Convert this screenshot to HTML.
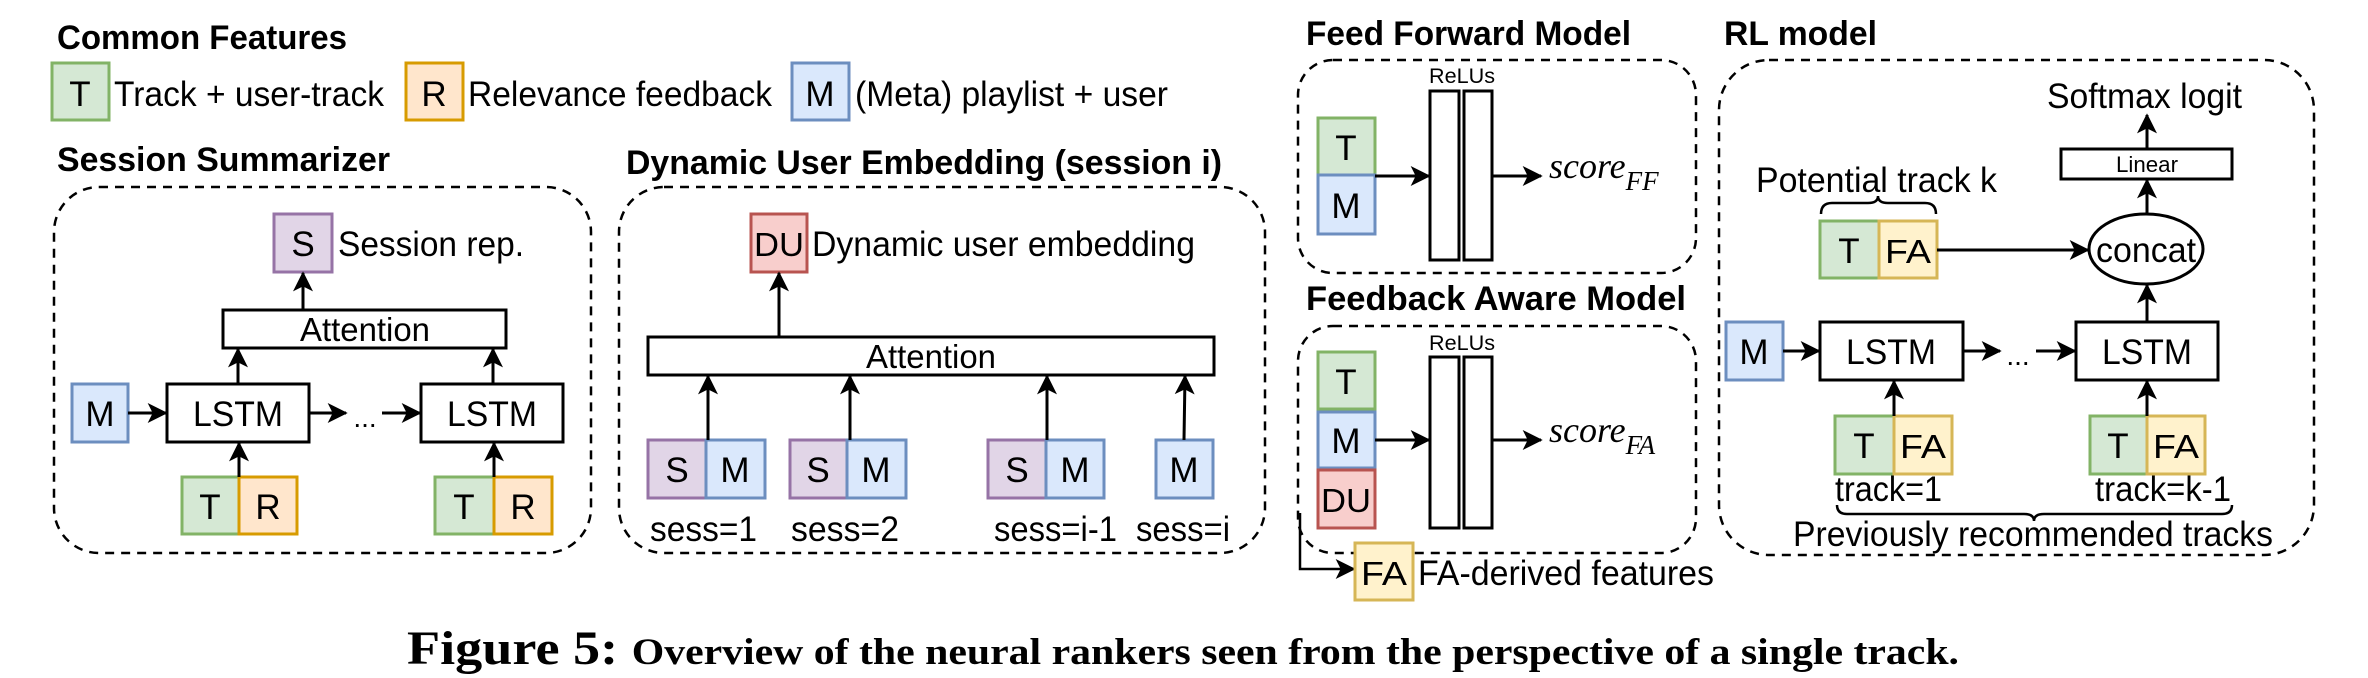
<!DOCTYPE html>
<html><head><meta charset="utf-8"><style>
html,body{margin:0;padding:0;background:#fff;}
svg{display:block;}
text{font-family:"Liberation Sans",Arial,sans-serif;fill:#000;}
.b{font-weight:bold;}
</style></head><body>
<svg width="2368" height="678" viewBox="0 0 2368 678" xmlns="http://www.w3.org/2000/svg">
<defs>
<marker id="ar" viewBox="0 0 12 12" refX="11" refY="6" markerWidth="20" markerHeight="20" markerUnits="userSpaceOnUse" orient="auto">
<path d="M0,0 L12,6 L0,12 L3,6 Z" fill="#000"/>
</marker>
</defs>
<g stroke-width="3">
<text x="57" y="49" class="b" font-size="34" textLength="290" lengthAdjust="spacingAndGlyphs">Common Features</text>
<rect x="52" y="63" width="57" height="57" fill="#d5e8d4" stroke="#82b366"/>
<text x="80" y="106" font-size="35" text-anchor="middle">T</text>
<text x="114" y="106" font-size="35" textLength="270" lengthAdjust="spacingAndGlyphs">Track + user-track</text>
<rect x="406" y="63" width="57" height="57" fill="#ffe6cc" stroke="#d79b00"/>
<text x="434" y="106" font-size="35" text-anchor="middle">R</text>
<text x="468" y="106" font-size="35" textLength="304" lengthAdjust="spacingAndGlyphs">Relevance feedback</text>
<rect x="792" y="63" width="57" height="57" fill="#dae8fc" stroke="#6c8ebf"/>
<text x="820" y="106" font-size="35" text-anchor="middle">M</text>
<text x="855" y="106" font-size="35" textLength="313" lengthAdjust="spacingAndGlyphs">(Meta) playlist + user</text>

<text x="57" y="171" class="b" font-size="34" textLength="333" lengthAdjust="spacingAndGlyphs">Session Summarizer</text>
<text x="626" y="174" class="b" font-size="34" textLength="596" lengthAdjust="spacingAndGlyphs">Dynamic User Embedding (session i)</text>
<text x="1306" y="45" class="b" font-size="34" textLength="325" lengthAdjust="spacingAndGlyphs">Feed Forward Model</text>
<text x="1724" y="45" class="b" font-size="34" textLength="153" lengthAdjust="spacingAndGlyphs">RL model</text>
<text x="1306" y="310" class="b" font-size="34" textLength="380" lengthAdjust="spacingAndGlyphs">Feedback Aware Model</text>

<g fill="none" stroke="#000" stroke-dasharray="9 7" stroke-width="2.5">
<rect x="54" y="187" width="537" height="366" rx="45"/>
<rect x="619" y="187" width="646" height="366" rx="45"/>
<rect x="1298" y="60" width="398" height="213" rx="35"/>
<rect x="1298" y="326" width="398" height="227" rx="35"/>
<rect x="1719" y="60" width="595" height="495" rx="50"/>
</g>

<rect x="274" y="214" width="58" height="58" fill="#e1d5e7" stroke="#9673a6"/>
<text x="303" y="256" font-size="35" text-anchor="middle">S</text>
<text x="338" y="256" font-size="35" textLength="186" lengthAdjust="spacingAndGlyphs">Session rep.</text>
<rect x="223" y="310" width="283" height="38" fill="#fff" stroke="#000"/>
<text x="365" y="341" font-size="33" text-anchor="middle" textLength="130" lengthAdjust="spacingAndGlyphs">Attention</text>
<line x1="303" y1="310" x2="303" y2="273" stroke="#000" marker-end="url(#ar)"/>
<rect x="72" y="384" width="56" height="58" fill="#dae8fc" stroke="#6c8ebf"/>
<text x="100" y="426" font-size="35" text-anchor="middle">M</text>
<rect x="167" y="384" width="142" height="58" fill="#fff" stroke="#000"/>
<text x="238" y="426" font-size="35" text-anchor="middle" textLength="90" lengthAdjust="spacingAndGlyphs">LSTM</text>
<rect x="421" y="384" width="142" height="58" fill="#fff" stroke="#000"/>
<text x="492" y="426" font-size="35" text-anchor="middle" textLength="90" lengthAdjust="spacingAndGlyphs">LSTM</text>
<line x1="128" y1="413" x2="166" y2="413" stroke="#000" marker-end="url(#ar)"/>
<line x1="309" y1="413" x2="346" y2="413" stroke="#000" marker-end="url(#ar)"/>
<text x="365" y="427" font-size="28" text-anchor="middle">...</text>
<line x1="382" y1="413" x2="420" y2="413" stroke="#000" marker-end="url(#ar)"/>
<line x1="238" y1="384" x2="238" y2="349" stroke="#000" marker-end="url(#ar)"/>
<line x1="493" y1="384" x2="493" y2="349" stroke="#000" marker-end="url(#ar)"/>
<rect x="182" y="477" width="57" height="57" fill="#d5e8d4" stroke="#82b366"/>
<text x="210" y="519" font-size="35" text-anchor="middle">T</text>
<rect x="239" y="477" width="58" height="57" fill="#ffe6cc" stroke="#d79b00"/>
<text x="268" y="519" font-size="35" text-anchor="middle">R</text>
<rect x="435" y="477" width="59" height="57" fill="#d5e8d4" stroke="#82b366"/>
<text x="464" y="519" font-size="35" text-anchor="middle">T</text>
<rect x="494" y="477" width="58" height="57" fill="#ffe6cc" stroke="#d79b00"/>
<text x="523" y="519" font-size="35" text-anchor="middle">R</text>
<line x1="239" y1="477" x2="239" y2="443" stroke="#000" marker-end="url(#ar)"/>
<line x1="494" y1="477" x2="494" y2="443" stroke="#000" marker-end="url(#ar)"/>

<rect x="751" y="214" width="56" height="58" fill="#f8cecc" stroke="#b85450"/>
<text x="779" y="256" font-size="33" text-anchor="middle" textLength="50" lengthAdjust="spacingAndGlyphs">DU</text>
<text x="812" y="256" font-size="35" textLength="383" lengthAdjust="spacingAndGlyphs">Dynamic user embedding</text>
<rect x="648" y="337" width="566" height="38" fill="#fff" stroke="#000"/>
<text x="931" y="368" font-size="33" text-anchor="middle" textLength="130" lengthAdjust="spacingAndGlyphs">Attention</text>
<line x1="779" y1="337" x2="779" y2="273" stroke="#000" marker-end="url(#ar)"/>
<rect x="648" y="440" width="58" height="58" fill="#e1d5e7" stroke="#9673a6"/>
<text x="677" y="482" font-size="35" text-anchor="middle">S</text>
<rect x="706" y="440" width="59" height="58" fill="#dae8fc" stroke="#6c8ebf"/>
<text x="735" y="482" font-size="35" text-anchor="middle">M</text>
<rect x="790" y="440" width="57" height="58" fill="#e1d5e7" stroke="#9673a6"/>
<text x="818" y="482" font-size="35" text-anchor="middle">S</text>
<rect x="847" y="440" width="59" height="58" fill="#dae8fc" stroke="#6c8ebf"/>
<text x="876" y="482" font-size="35" text-anchor="middle">M</text>
<rect x="988" y="440" width="58" height="58" fill="#e1d5e7" stroke="#9673a6"/>
<text x="1017" y="482" font-size="35" text-anchor="middle">S</text>
<rect x="1046" y="440" width="58" height="58" fill="#dae8fc" stroke="#6c8ebf"/>
<text x="1075" y="482" font-size="35" text-anchor="middle">M</text>
<rect x="1156" y="440" width="57" height="58" fill="#dae8fc" stroke="#6c8ebf"/>
<text x="1184" y="482" font-size="35" text-anchor="middle">M</text>
<line x1="708" y1="440" x2="708" y2="376" stroke="#000" marker-end="url(#ar)"/>
<line x1="850" y1="440" x2="850" y2="376" stroke="#000" marker-end="url(#ar)"/>
<line x1="1047" y1="440" x2="1047" y2="376" stroke="#000" marker-end="url(#ar)"/>
<line x1="1184" y1="440" x2="1185" y2="376" stroke="#000" marker-end="url(#ar)"/>
<text x="650" y="541" font-size="35" textLength="107" lengthAdjust="spacingAndGlyphs">sess=1</text>
<text x="791" y="541" font-size="35" textLength="108" lengthAdjust="spacingAndGlyphs">sess=2</text>
<text x="994" y="541" font-size="35" textLength="123" lengthAdjust="spacingAndGlyphs">sess=i-1</text>
<text x="1136" y="541" font-size="35" textLength="94" lengthAdjust="spacingAndGlyphs">sess=i</text>

<text x="1462" y="83" font-size="21" text-anchor="middle" textLength="66" lengthAdjust="spacingAndGlyphs">ReLUs</text>
<rect x="1430" y="91" width="29" height="169" fill="#fff" stroke="#000"/>
<rect x="1464" y="91" width="28" height="169" fill="#fff" stroke="#000"/>
<rect x="1318" y="118" width="57" height="57" fill="#d5e8d4" stroke="#82b366"/>
<text x="1346" y="160" font-size="35" text-anchor="middle">T</text>
<rect x="1318" y="175" width="57" height="59" fill="#dae8fc" stroke="#6c8ebf"/>
<text x="1346" y="218" font-size="35" text-anchor="middle">M</text>
<line x1="1375" y1="176" x2="1429" y2="176" stroke="#000" marker-end="url(#ar)"/>
<line x1="1492" y1="176" x2="1541" y2="176" stroke="#000" marker-end="url(#ar)"/>
<text x="1549" y="178" font-size="36" font-style="italic" style="font-family:'Liberation Serif',serif">score<tspan font-size="27" dy="12">FF</tspan></text>

<text x="1462" y="350" font-size="21" text-anchor="middle" textLength="66" lengthAdjust="spacingAndGlyphs">ReLUs</text>
<rect x="1430" y="357" width="29" height="171" fill="#fff" stroke="#000"/>
<rect x="1464" y="357" width="28" height="171" fill="#fff" stroke="#000"/>
<rect x="1318" y="352" width="57" height="57" fill="#d5e8d4" stroke="#82b366"/>
<text x="1346" y="394" font-size="35" text-anchor="middle">T</text>
<rect x="1318" y="412" width="57" height="56" fill="#dae8fc" stroke="#6c8ebf"/>
<text x="1346" y="453" font-size="35" text-anchor="middle">M</text>
<rect x="1318" y="470" width="57" height="58" fill="#f8cecc" stroke="#b85450"/>
<text x="1346" y="512" font-size="33" text-anchor="middle" textLength="50" lengthAdjust="spacingAndGlyphs">DU</text>
<line x1="1375" y1="440" x2="1429" y2="440" stroke="#000" marker-end="url(#ar)"/>
<line x1="1492" y1="440" x2="1541" y2="440" stroke="#000" marker-end="url(#ar)"/>
<text x="1549" y="442" font-size="36" font-style="italic" style="font-family:'Liberation Serif',serif">score<tspan font-size="27" dy="12">FA</tspan></text>
<polyline points="1300,513 1300,569 1354,569" fill="none" stroke="#000" stroke-width="2.5" marker-end="url(#ar)"/>
<rect x="1355" y="543" width="58" height="57" fill="#fff2cc" stroke="#d6b656"/>
<text x="1384" y="585" font-size="33" text-anchor="middle" textLength="46" lengthAdjust="spacingAndGlyphs">FA</text>
<text x="1418" y="585" font-size="35" textLength="296" lengthAdjust="spacingAndGlyphs">FA-derived features</text>

<text x="2047" y="108" font-size="35" textLength="195" lengthAdjust="spacingAndGlyphs">Softmax logit</text>
<rect x="2061" y="149" width="171" height="30" fill="#fff" stroke="#000"/>
<text x="2147" y="172" font-size="22" text-anchor="middle" textLength="62" lengthAdjust="spacingAndGlyphs">Linear</text>
<line x1="2147" y1="149" x2="2147" y2="115" stroke="#000" marker-end="url(#ar)"/>
<line x1="2147" y1="214" x2="2147" y2="180" stroke="#000" marker-end="url(#ar)"/>
<ellipse cx="2146" cy="249" rx="57" ry="35" fill="#fff" stroke="#000"/>
<text x="2146" y="262" font-size="35" text-anchor="middle" textLength="100" lengthAdjust="spacingAndGlyphs">concat</text>
<text x="1756" y="192" font-size="35" textLength="241" lengthAdjust="spacingAndGlyphs">Potential track k</text>
<path d="M1821,214 Q1821,203 1832,203 L1868,203 Q1878,203 1878,196 Q1878,203 1888,203 L1925,203 Q1936,203 1936,214" fill="none" stroke="#000" stroke-width="2.5"/>
<rect x="1820" y="221" width="59" height="57" fill="#d5e8d4" stroke="#82b366"/>
<text x="1849" y="263" font-size="35" text-anchor="middle">T</text>
<rect x="1879" y="221" width="58" height="57" fill="#fff2cc" stroke="#d6b656"/>
<text x="1908" y="263" font-size="33" text-anchor="middle" textLength="46" lengthAdjust="spacingAndGlyphs">FA</text>
<line x1="1937" y1="250" x2="2088" y2="250" stroke="#000" marker-end="url(#ar)"/>
<rect x="1726" y="322" width="57" height="58" fill="#dae8fc" stroke="#6c8ebf"/>
<text x="1754" y="364" font-size="35" text-anchor="middle">M</text>
<rect x="1820" y="322" width="143" height="58" fill="#fff" stroke="#000"/>
<text x="1891" y="364" font-size="35" text-anchor="middle" textLength="90" lengthAdjust="spacingAndGlyphs">LSTM</text>
<rect x="2076" y="322" width="142" height="58" fill="#fff" stroke="#000"/>
<text x="2147" y="364" font-size="35" text-anchor="middle" textLength="90" lengthAdjust="spacingAndGlyphs">LSTM</text>
<line x1="1783" y1="351" x2="1819" y2="351" stroke="#000" marker-end="url(#ar)"/>
<line x1="1963" y1="351" x2="2000" y2="351" stroke="#000" marker-end="url(#ar)"/>
<text x="2018" y="365" font-size="28" text-anchor="middle">...</text>
<line x1="2036" y1="351" x2="2075" y2="351" stroke="#000" marker-end="url(#ar)"/>
<line x1="2147" y1="322" x2="2147" y2="285" stroke="#000" marker-end="url(#ar)"/>
<rect x="1835" y="416" width="59" height="58" fill="#d5e8d4" stroke="#82b366"/>
<text x="1864" y="458" font-size="35" text-anchor="middle">T</text>
<rect x="1894" y="416" width="58" height="58" fill="#fff2cc" stroke="#d6b656"/>
<text x="1923" y="458" font-size="33" text-anchor="middle" textLength="46" lengthAdjust="spacingAndGlyphs">FA</text>
<rect x="2090" y="416" width="57" height="58" fill="#d5e8d4" stroke="#82b366"/>
<text x="2118" y="458" font-size="35" text-anchor="middle">T</text>
<rect x="2147" y="416" width="58" height="58" fill="#fff2cc" stroke="#d6b656"/>
<text x="2176" y="458" font-size="33" text-anchor="middle" textLength="46" lengthAdjust="spacingAndGlyphs">FA</text>
<line x1="1894" y1="416" x2="1894" y2="381" stroke="#000" marker-end="url(#ar)"/>
<line x1="2147" y1="416" x2="2147" y2="381" stroke="#000" marker-end="url(#ar)"/>
<text x="1835" y="501" font-size="35" textLength="107" lengthAdjust="spacingAndGlyphs">track=1</text>
<text x="2095" y="501" font-size="35" textLength="136" lengthAdjust="spacingAndGlyphs">track=k-1</text>
<path d="M1837,505 Q1837,514 1847,514 L2024,514 Q2034,514 2034,521 Q2034,514 2044,514 L2222,514 Q2232,514 2232,505" fill="none" stroke="#000" stroke-width="2.5"/>
<text x="1793" y="546" font-size="35" textLength="480" lengthAdjust="spacingAndGlyphs">Previously recommended tracks</text>
</g>

<text x="407" y="664" font-weight="bold" style="font-family:'Liberation Serif',serif" font-size="48" textLength="1552" lengthAdjust="spacingAndGlyphs">Figure 5: <tspan font-size="37">Overview of the neural rankers seen from the perspective of a single track.</tspan></text>
</svg>
</body></html>
